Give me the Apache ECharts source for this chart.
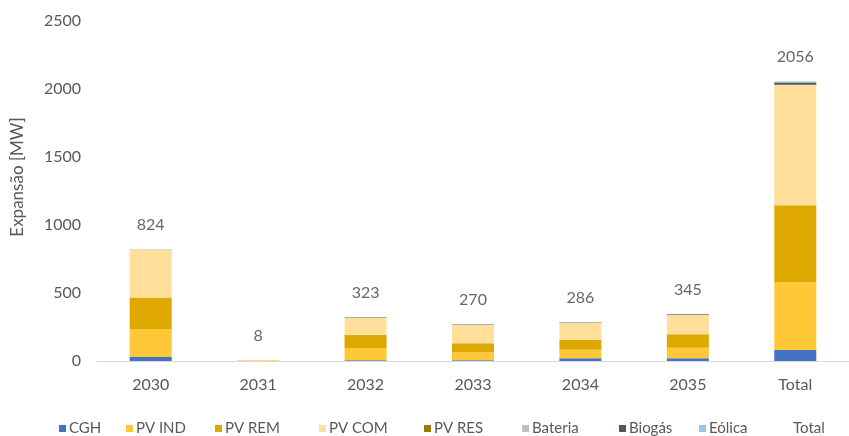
<!DOCTYPE html>
<html>
<head>
<meta charset="utf-8">
<script src="https://cdn.jsdelivr.net/npm/echarts@6/dist/echarts.min.js"></script>
<style>html,body{margin:0;padding:0;background:#fff}#c{width:849px;height:436px}</style>
</head>
<body>
<div id="c"></div>
<script>
var categories = ['2030', '2031', '2032', '2033', '2034', '2035', 'Total'];
var cgh     = [30, 0, 5, 5, 20, 20, 80];
var pvInd   = [205, 5, 90, 60, 62, 78, 500];
var pvRem   = [231, 0, 98, 66, 72, 98, 565];
var pvCom   = [353, 3, 125, 134, 126, 143, 884];
var pvRes   = [0, 0, 0, 0, 0, 0, 0];
var bateria = [3, 0, 0, 0, 0, 0, 3];
var biogas  = [0, 0, 4, 4, 4, 4, 16];
var eolica  = [2, 0, 1, 1, 2, 2, 8];
var totals  = [824, 8, 323, 270, 286, 345, 2056];
var yTicks  = [0, 500, 1000, 1500, 2000, 2500];
var legendNames = ['CGH', 'PV IND', 'PV REM', 'PV COM', 'PV RES', 'Bateria', 'Biogás', 'Eólica', 'Total'];

var FONT = 'Lato, "Open Sans", sans-serif';
var legendLeft = [54, 121, 210, 314, 419, 517, 614, 694, 778];
var legends = legendNames.map(function (n, i) {
  return { data: [n], left: legendLeft[i], top: 416, itemWidth: 7, itemHeight: 7, icon: 'rect', itemGap: 0,
    textStyle: { color: '#595959', fontSize: 15, fontFamily: FONT, padding: [0, 0, 0, -2] } };
});
function barSeries(name, data, color) {
  return { name: name, type: 'bar', stack: 'a', data: data, barWidth: 42,
    itemStyle: { color: color }, emphasis: { disabled: true } };
}
var chart = echarts.init(document.getElementById('c'));
chart.setOption({
  animation: false,
  textStyle: { fontFamily: FONT },
  grid: { left: 97, top: 21, width: 765, height: 340, containLabel: false },
  legend: legends,
  xAxis: {
    type: 'category', data: categories,
    axisLine: { lineStyle: { color: '#D9D9D9', width: 1 } },
    axisTick: { show: false },
    axisLabel: { color: '#595959', fontSize: 16, margin: 16 }
  },
  yAxis: {
    type: 'value', min: yTicks[0], max: yTicks[yTicks.length - 1], interval: 500,
    name: 'Expansão [MW]', nameLocation: 'middle', nameGap: 71,
    nameTextStyle: { color: '#595959', fontSize: 17, padding: [0, 0, 0, 28] },
    splitLine: { show: false }, axisLine: { show: false }, axisTick: { show: false },
    axisLabel: { color: '#595959', fontSize: 16, margin: 16, formatter: function (v) { return String(v); } }
  },
  series: [
    barSeries('CGH', cgh, '#4472C4'),
    barSeries('PV IND', pvInd, '#FFC837'),
    barSeries('PV REM', pvRem, '#DEA800'),
    barSeries('PV COM', pvCom, '#FFDF99'),
    barSeries('PV RES', pvRes, '#9C7A00'),
    barSeries('Bateria', bateria, '#BFBFBF'),
    barSeries('Biogás', biogas, '#5A5650'),
    barSeries('Eólica', eolica, '#9DC3E6'),
    { name: 'Total', type: 'scatter', data: totals, symbolSize: 1,
      itemStyle: { color: 'rgba(0,0,0,0)' },
      label: { show: true, position: 'top', distance: 16, color: '#404040', fontSize: 16, formatter: '{c}' },
      emphasis: { disabled: true } }
  ]
});
</script>
</body>
</html>
